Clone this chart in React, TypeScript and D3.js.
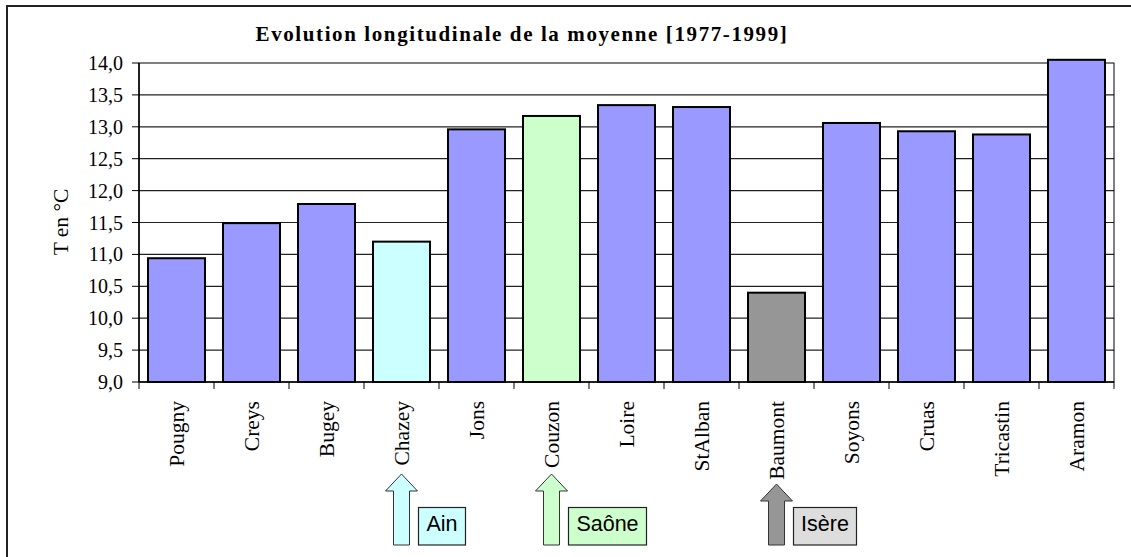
import * as d3 from 'd3'

const categories = ['Pougny', 'Creys', 'Bugey', 'Chazey', 'Jons', 'Couzon', 'Loire', 'StAlban', 'Baumont', 'Soyons', 'Cruas', 'Tricastin', 'Aramon']
const means = [10.94, 11.49, 11.79, 11.2, 12.96, 13.17, 13.34, 13.31, 10.4, 13.06, 12.93, 12.88, 14.05]
const yTicks = [9, 9.5, 10, 10.5, 11, 11.5, 12, 12.5, 13, 13.5, 14]
const rivers = ['Ain', 'Saône', 'Isère']
const riverStations = ['Chazey', 'Couzon', 'Baumont']

const TITLE = 'Evolution longitudinale de la moyenne  [1977-1999]'
const Y_LABEL = 'T en °C'

// colours per station (default periwinkle)
const BAR_FILL: Record<string, string> = { Chazey: '#CCFFFF', Couzon: '#CCFFCC', Baumont: '#969696' }
const ARROW_FILL: Record<string, string> = { Ain: '#CCFFFF', Saône: '#CCFFCC', Isère: '#969696' }
const BOX_FILL: Record<string, string> = { Ain: '#CCFFFF', Saône: '#CCFFCC', Isère: '#DDDDDD' }
const BOX_W: Record<string, number> = { Ain: 47, Saône: 78, Isère: 63 }
const ARROW_TIP: Record<string, number> = { Ain: 474, Saône: 474, Isère: 484 }

const W = 1131, H = 557
const L = 139, R = 1114, T = 63, B = 382

const fr = d3.formatLocale({ decimal: ',', thousands: ' ', grouping: [3], currency: ['', ' €'] })
const fmt = fr.format('.1f')

export default function App() {
  const x = d3.scaleBand<string>().domain(categories).range([L, R]).paddingInner(0.24).paddingOuter(0.12)
  const step = x.step()
  const y = d3.scaleLinear().domain([9, 14]).range([B, T])
  const serif = '"Liberation Serif", "Times New Roman", serif'
  const sans = '"Liberation Sans", Arial, sans-serif'
  const edges = categories.map(c => (x(c) as number) - step * 0.12).concat([R])

  return (
    <svg width={W} height={H} style={{ position: 'absolute', left: 0, top: 0, background: '#fff' }}>
      <rect x={7} y={6} width={W + 20} height={H + 20} fill="#fff" stroke="#222" strokeWidth={2} />
      <text x={522} y={41} textAnchor="middle" fontFamily={serif} fontWeight="bold" fontSize={21} letterSpacing={1.6}>{TITLE}</text>

      {yTicks.map(t => (
        <g key={t}>
          {t > 9 && t < 14 && <line x1={L} x2={R} y1={y(t)} y2={y(t)} stroke="#222" strokeWidth={1.2} />}
          <line x1={L - 7} x2={L} y1={y(t)} y2={y(t)} stroke="#000" />
          <text x={123} y={y(t)} dy="0.35em" textAnchor="end" fontFamily={serif} fontSize={20}>{fmt(t)}</text>
        </g>
      ))}
      <rect x={L} y={T} width={R - L} height={B - T} fill="none" stroke="#000" strokeWidth={1} />

      {categories.map((c, i) => (
        <rect key={c} x={x(c)} y={y(means[i])} width={x.bandwidth()} height={y(9) - y(means[i])}
          fill={BAR_FILL[c] || '#9999FF'} stroke="#000" strokeWidth={2} />
      ))}

      <line x1={L} x2={R} y1={B} y2={B} stroke="#000" strokeWidth={1.5} />
      <line x1={L} x2={L} y1={T} y2={B} stroke="#000" strokeWidth={1.5} />
      {edges.map((e, i) => (
        <line key={i} x1={e} x2={e} y1={B} y2={B + 7} stroke="#000" />
      ))}
      {categories.map(c => {
        const cx = (x(c) as number) + x.bandwidth() / 2
        return (
          <text key={c} transform={`translate(${cx},401) rotate(-90)`} dy="0.35em" textAnchor="end"
            fontFamily={serif} fontSize={21.5}>{c}</text>
        )
      })}

      <text transform="translate(60,222) rotate(-90)" dy="0.35em" textAnchor="middle" fontFamily={serif} fontSize={21.5}>{Y_LABEL}</text>

      {rivers.map((r, i) => {
        const cx = (x(riverStations[i]) as number) + x.bandwidth() / 2
        const tip = ARROW_TIP[r]
        const base = tip + 17, bot = 545, hw = 16, sw = 8
        const p = d3.path()
        p.moveTo(cx, tip)
        p.lineTo(cx + hw, base)
        p.lineTo(cx + sw, base)
        p.lineTo(cx + sw, bot)
        p.lineTo(cx - sw, bot)
        p.lineTo(cx - sw, base)
        p.lineTo(cx - hw, base)
        p.closePath()
        const bx = cx + hw + 1
        return (
          <g key={r}>
            <path d={p.toString()} fill={ARROW_FILL[r]} stroke="#333" strokeWidth={1} />
            <rect x={bx} y={507.5} width={BOX_W[r]} height={37.5} fill={BOX_FILL[r]} stroke="#222" strokeWidth={1.2} />
            <text x={bx + BOX_W[r] / 2} y={531} textAnchor="middle" fontFamily={sans} fontSize={21.5}>{r}</text>
          </g>
        )
      })}
    </svg>
  )
}
